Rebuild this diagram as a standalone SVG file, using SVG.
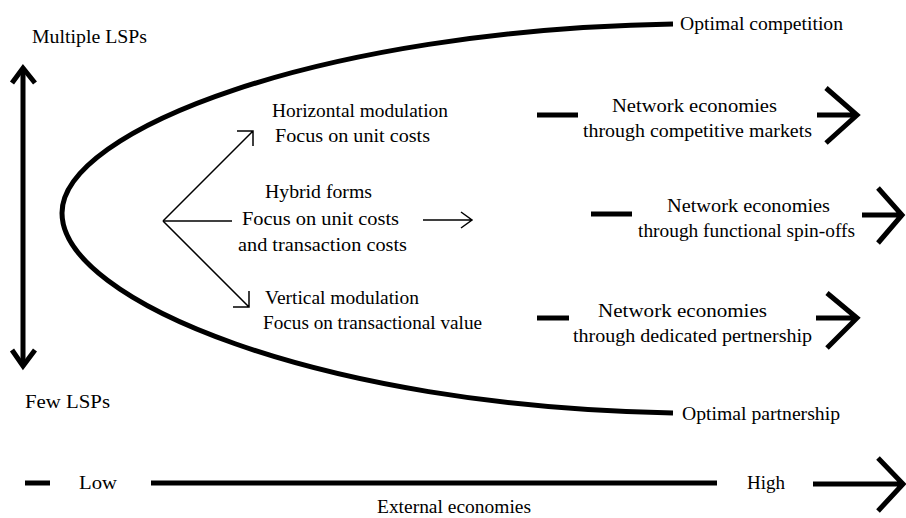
<svg xmlns="http://www.w3.org/2000/svg" width="906" height="518" viewBox="0 0 906 518">
<style>
text{font-family:'Liberation Serif','Times New Roman',serif;font-size:19px;fill:#000}
.thick{fill:none;stroke:#000;stroke-width:5;stroke-linecap:butt;stroke-linejoin:miter}
.thin{fill:none;stroke:#000;stroke-width:1.5}
</style>
<rect width="906" height="518" fill="#fff"/>
<g id="axis-vertical">
<path class="thick" d="M23,68 V366"/>
<path class="thick" d="M12,83 L23,68 L35,83"/>
<path class="thick" d="M12,350 L23,366 L35,350"/>
</g>
<g id="label-multiple"><text x="32" y="43" textLength="115" lengthAdjust="spacingAndGlyphs">Multiple LSPs</text></g>
<g id="label-few"><text x="25" y="408" textLength="85" lengthAdjust="spacingAndGlyphs">Few LSPs</text></g>
<g id="curve"><path class="thick" d="M673,24 C320,30 62,130 62,213 C62,301 320,407 673,413"/></g>
<g id="label-opt-comp"><text x="680" y="30" textLength="163" lengthAdjust="spacingAndGlyphs">Optimal competition</text></g>
<g id="label-opt-part"><text x="682" y="420" textLength="158" lengthAdjust="spacingAndGlyphs">Optimal partnership</text></g>
<g id="node-horizontal">
<text x="272" y="117" textLength="176" lengthAdjust="spacingAndGlyphs">Horizontal modulation</text>
<text x="275" y="142" textLength="155" lengthAdjust="spacingAndGlyphs">Focus on unit costs</text>
</g>
<g id="node-hybrid">
<text x="265" y="198" textLength="107" lengthAdjust="spacingAndGlyphs">Hybrid forms</text>
<text x="242" y="225" textLength="157" lengthAdjust="spacingAndGlyphs">Focus on unit costs</text>
<text x="238" y="251" textLength="169" lengthAdjust="spacingAndGlyphs">and transaction costs</text>
</g>
<g id="node-vertical">
<text x="265" y="304" textLength="154" lengthAdjust="spacingAndGlyphs">Vertical modulation</text>
<text x="263" y="329" textLength="219" lengthAdjust="spacingAndGlyphs">Focus on transactional value</text>
</g>
<g id="node-markets">
<text x="612" y="112" textLength="165" lengthAdjust="spacingAndGlyphs">Network economies</text>
<text x="583" y="137" textLength="229" lengthAdjust="spacingAndGlyphs">through competitive markets</text>
</g>
<g id="node-spinoffs">
<text x="667" y="212" textLength="163" lengthAdjust="spacingAndGlyphs">Network economies</text>
<text x="638" y="237" textLength="217" lengthAdjust="spacingAndGlyphs">through functional spin-offs</text>
</g>
<g id="node-partnership">
<text x="598" y="317" textLength="169" lengthAdjust="spacingAndGlyphs">Network economies</text>
<text x="573" y="342" textLength="239" lengthAdjust="spacingAndGlyphs">through dedicated pertnership</text>
</g>
<g id="axis-horizontal">
<text x="79" y="489" textLength="38" lengthAdjust="spacingAndGlyphs">Low</text>
<text x="747" y="489" textLength="38" lengthAdjust="spacingAndGlyphs">High</text>
<text x="377" y="513" textLength="154" lengthAdjust="spacingAndGlyphs">External economies</text>
</g>
<g id="connectors">
<path class="thin" d="M163,221 L253,131 M237,131 H253 V146"/>
<path class="thin" d="M163,221 H232"/>
<path class="thin" d="M163,221 L249,307 M249,291 V307 H233"/>
<path class="thin" d="M423,220 H472 M461,212 L472,220 L461,228"/>
<path class="thick" d="M537,115 H578"/>
<path class="thick" d="M817,115 H857 M826,88 L857,115 L826,143"/>
<path class="thick" d="M591,214 H632"/>
<path class="thick" d="M862,215 H902 M878,188 L902,215 L878,243"/>
<path class="thick" d="M537,318 H569"/>
<path class="thick" d="M816,318 H857 M827,293 L857,318 L827,348"/>
<path class="thick" d="M25,483 H50"/>
<path class="thick" d="M151,483 H717"/>
<path class="thick" d="M813,484 H903 M878,458 L903,484 L878,511"/>
</g>
</svg>
